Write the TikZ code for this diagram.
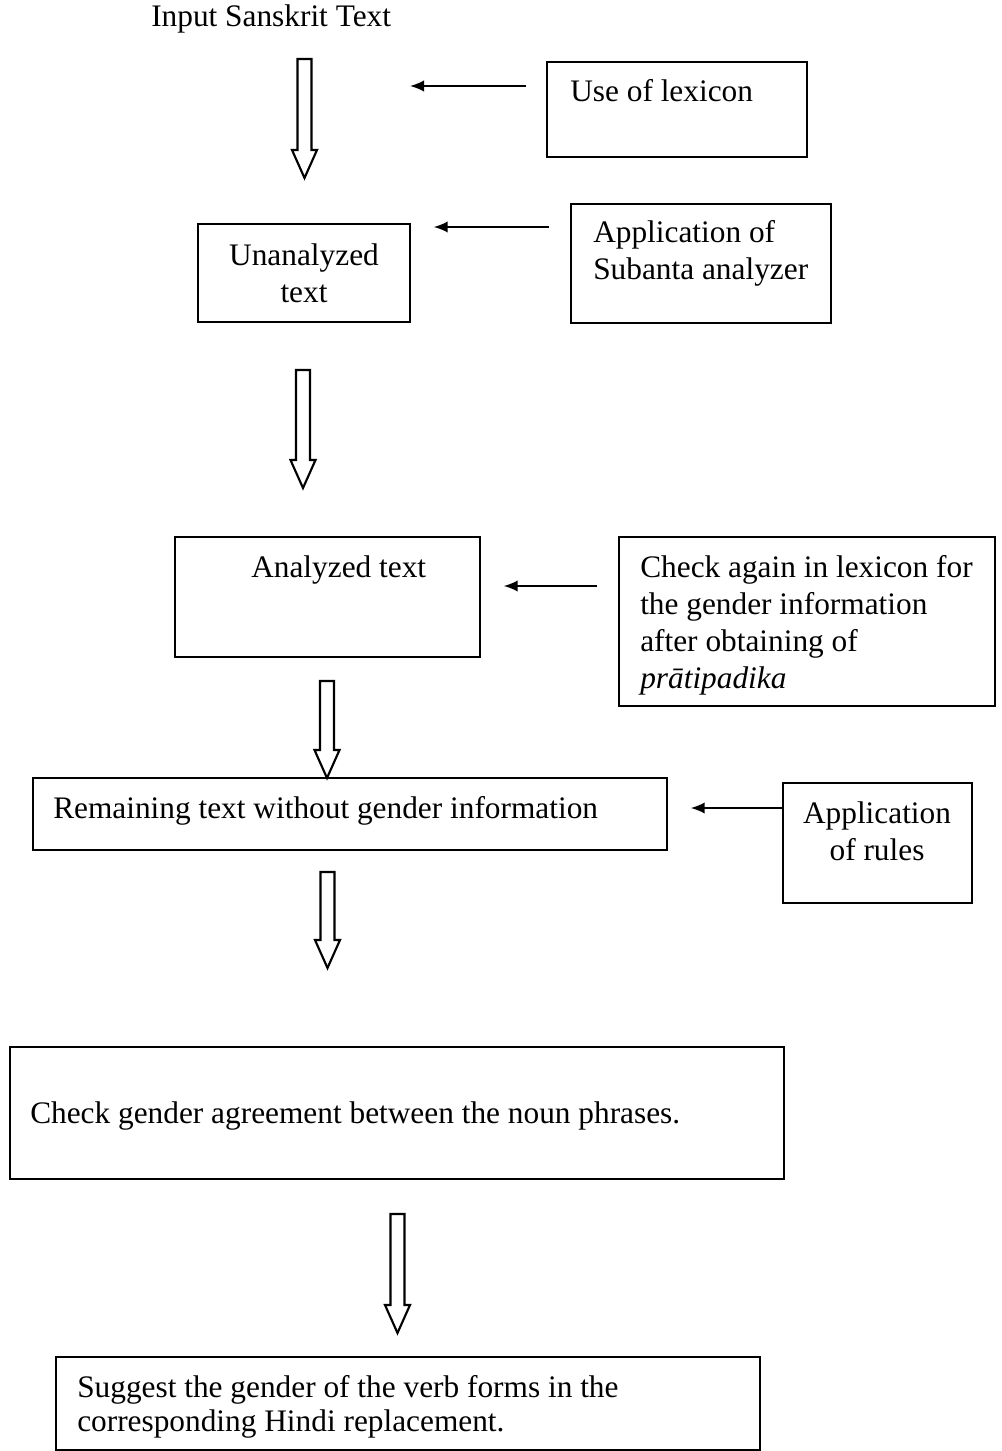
\documentclass[tikz,border=0pt]{standalone}
\usepackage{fontspec}
\setmainfont{Liberation Serif}
\usetikzlibrary{arrows.meta,positioning,fit,calc}
\tikzset{
  gen/box/.style={
    draw=black,
    line width=1.1pt,
    inner sep=0pt
  },
  gen/text/.style={
    font=\fontsize{23.5}{27.75}\selectfont,
    inner sep=0pt,
    align=left
  },
  gen/arrow/.style={-{Latex[length=10.5pt,width=8.5pt]}, line width=1.3pt, draw=black},
  gen/hollow/.style={draw=black, line width=1.6pt, line join=miter}
}
% hollow block arrow pointing down, from #1 (top of shaft) to #2 (tip)
\newcommand{\hollowarrow}[2]{%
  \draw[gen/hollow] ($(#1)+(-7,0)$) -- ($(#2)+(-7,-28)$) -- ($(#2)+(-12.5,-28)$)
    -- (#2) -- ($(#2)+(12.5,-28)$) -- ($(#2)+(7,-28)$) -- ($(#1)+(7,0)$) -- cycle;}

\begin{document}
\begin{tikzpicture}[x=0.75pt,y=-0.75pt]
  \useasboundingbox (0,0) rectangle (1001,1451);

  % boxes
  \node[gen/box,fit={(547,62) (807,157)}] (lexicon) {};
  \node[gen/box,fit={(198,224) (410,322)}] (unanalyzed) {};
  \node[gen/box,fit={(571,204) (831,323)}] (subanta) {};
  \node[gen/box,fit={(175,537) (480,657)}] (analyzed) {};
  \node[gen/box,fit={(619,537) (995,706)}] (again) {};
  \node[gen/box,fit={(33,778) (667,850)}] (remaining) {};
  \node[gen/box,fit={(783,783) (972,903)}] (rules) {};
  \node[gen/box,fit={(10,1047) (784,1179)}] (agreement) {};
  \node[gen/box,fit={(56,1357) (760,1450)}] (suggest) {};

  % texts (multi-line ones sit on their last baseline)
  \node[gen/text,anchor=base west] (input) at (151,27) {Input Sanskrit Text};
  \node[gen/text,anchor=base west] (lexicontxt) at (570,102) {Use of lexicon};
  \node[gen/text,align=center,anchor=base] (unanalyzedtxt) at (304,302) {Unanalyzed\\text};
  \node[gen/text,anchor=base west] (subantatxt) at (593,280) {Application of\\Subanta analyzer};
  \node[gen/text,anchor=base west] (analyzedtxt) at (251,577) {Analyzed text};
  \node[gen/text,anchor=base west] (againtxt) at (640,688)
    {Check again in lexicon for\\the gender information\\after obtaining of\\\textit{prātipadika}};
  \node[gen/text,anchor=base west] (remainingtxt) at (53,818) {Remaining text without gender information};
  \node[gen/text,align=center,anchor=base] (rulestxt) at (877,860) {Application\\of rules};
  \node[gen/text,anchor=base west] (agreementtxt) at (30,1123) {Check gender agreement between the noun phrases.};
  \node[gen/text,anchor=base west,font=\fontsize{23.5}{25.5}\selectfont] (suggesttxt) at (77,1431)
    {Suggest the gender of the verb forms in the\\corresponding Hindi replacement.};

  % arrow ends
  \coordinate (h1a) at (304.5,59);  \coordinate (h1b) at (304.5,178);
  \coordinate (h2a) at (303,370);   \coordinate (h2b) at (303,488);
  \coordinate (h3a) at (327,681);   \coordinate (h3b) at (327,778);
  \coordinate (h4a) at (327.5,872); \coordinate (h4b) at (327.5,968);
  \coordinate (h5a) at (397.5,1214);\coordinate (h5b) at (397.5,1333);
  \coordinate (l1) at (410,86);

  \hollowarrow{h1a}{h1b}
  \hollowarrow{h2a}{h2b}
  \hollowarrow{h3a}{h3b}
  \hollowarrow{h4a}{h4b}
  \hollowarrow{h5a}{h5b}

  % thin arrows
  \draw[gen/arrow,shorten <=15pt] (lexicon.west |- l1) -- (l1);
  \draw[gen/arrow,shorten <=15.75pt,shorten >=17.25pt] (subanta.west |- 0,227) -- (unanalyzed.east |- 0,227);
  \draw[gen/arrow,shorten <=15.75pt,shorten >=17.25pt] (again.west |- 0,586) -- (analyzed.east |- 0,586);
  \draw[gen/arrow,shorten >=17.25pt] (rules.west |- 0,808) -- (remaining.east |- 0,808);
\end{tikzpicture}
\end{document}
